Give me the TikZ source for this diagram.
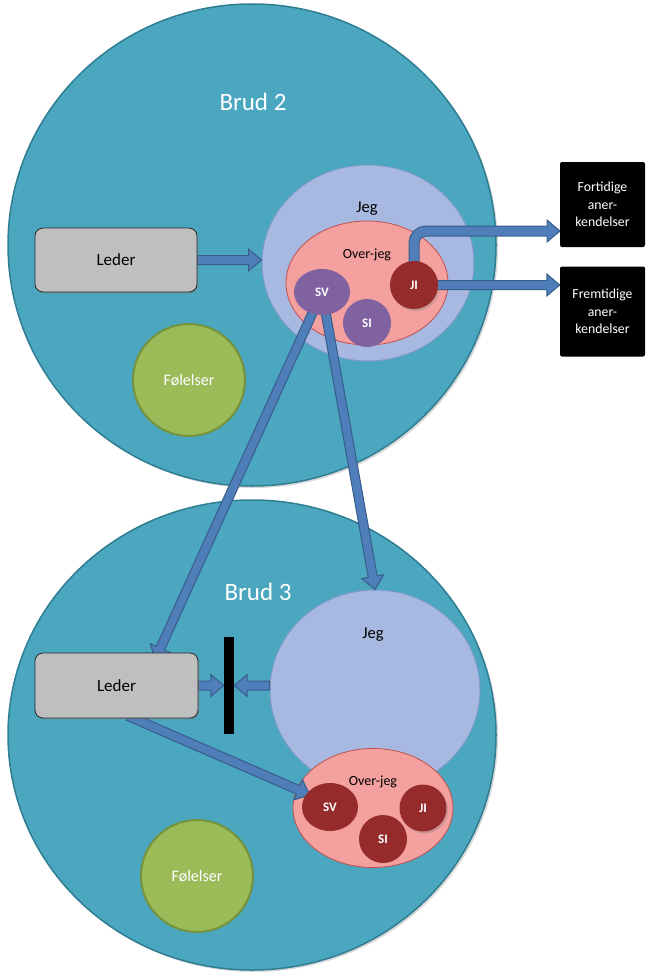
\documentclass[tikz,border=0pt]{standalone}
\usepackage{fontspec}
\setmainfont{Carlito}
\usetikzlibrary{shapes.geometric,calc,shadows}
\pgfdeclarelayer{bg}
\pgfdeclarelayer{arr}
\pgfsetlayers{bg,arr,main}
\definecolor{cTeal}{HTML}{4BA7BF}
\definecolor{cTealB}{HTML}{2F7D92}
\definecolor{cJeg}{HTML}{A7B9E0}
\definecolor{cJegB}{HTML}{7F9BCB}
\definecolor{cPink}{HTML}{F4A09F}
\definecolor{cPinkB}{HTML}{C0504D}
\definecolor{cPurple}{HTML}{8062A0}
\definecolor{cRed}{HTML}{952B2A}
\definecolor{cGray}{HTML}{BFBFBF}
\definecolor{cGreen}{HTML}{9BBB59}
\definecolor{cGreenB}{HTML}{76923C}
\definecolor{cArr}{HTML}{4F7EBB}
\definecolor{cArrB}{HTML}{385D8A}
\newcommand\barr[2]{%
  \path (#2) coordinate (tmpE) ($(#2)!13pt!(#1)$) coordinate (tmpH) (#1) coordinate (tmpS);
  \filldraw[arrowbody] ($(tmpS)!4.5pt!90:(tmpE)$) -- ($(tmpH)!4.5pt!90:(tmpE)$)
    -- ($(tmpH)!11pt!90:(tmpE)$) -- (tmpE) -- ($(tmpH)!11pt!-90:(tmpE)$)
    -- ($(tmpH)!4.5pt!-90:(tmpE)$) -- ($(tmpS)!4.5pt!-90:(tmpE)$) -- cycle;}
\begin{document}
\begin{tikzpicture}[x=1pt,y=-1pt,
  big/.style={ellipse, draw=cTealB, line width=1.5pt, fill=cTeal, inner sep=0pt},
  bigtext/.style={text=white, font=\fontsize{25}{30}\selectfont},
  jegshape/.style={ellipse, draw=cJegB, line width=1pt, fill=cJeg, inner sep=0pt},
  overshape/.style={ellipse, draw=cPinkB, line width=0.8pt, fill=cPink, inner sep=0pt},
  lbl/.style={text=black, font=\fontsize{16.5}{20}\selectfont},
  lbl2/.style={text=black, font=\fontsize{14}{17}\selectfont},
  small/.style={ellipse, inner sep=0pt, text=white, font=\bfseries\fontsize{13}{15}\selectfont},
  lederbox/.style={rectangle, rounded corners=8pt, draw=black!85, fill=cGray, line width=0.8pt,
    minimum width=162pt, minimum height=64pt, font=\fontsize{17}{20}\selectfont,
    drop shadow={opacity=0.35, shadow xshift=1.5pt, shadow yshift=-1.5pt}},
  fol/.style={circle, fill=cGreen, draw=cGreenB, line width=2pt, text=white, inner sep=0pt,
    minimum size=112pt, font=\fontsize{16}{19}\selectfont},
  blackbox/.style={fill=black, text=white, align=center, rounded corners=2pt, inner sep=0pt,
    minimum width=85pt, font=\fontsize{13.8}{17.5}\selectfont},
  arrowbody/.style={fill=cArr, draw=cArrB, line width=1pt, line join=miter}]
\useasboundingbox (0,0) rectangle (647,974);
\begin{pgfonlayer}{bg}
\node[big, minimum width=488pt, minimum height=482pt,
  drop shadow={opacity=0.3, shadow xshift=2pt, shadow yshift=-2pt}] (brud2) at (252,245) {};
\node[big, minimum width=488pt, minimum height=470pt,
  drop shadow={opacity=0.3, shadow xshift=2pt, shadow yshift=-2pt}] (brud3) at (252,735) {};
\node[bigtext] (b2t) at (253,102) {Brud 2};
\node[bigtext] (b3t) at (258,592) {Brud 3};
\node[jegshape, minimum width=212pt, minimum height=196pt] (jeg2) at (368,263) {};
\node[lbl] (jeg2t) at (367,209) {Jeg};
\node[overshape, minimum width=162pt, minimum height=124pt] (over2) at (367,283) {};
\node[lbl2] (over2t) at (367,255) {Over-jeg};
\node[jegshape, minimum width=210pt, minimum height=200pt] (jeg3) at (375,690) {};
\node[lbl] (jeg3t) at (373,635) {Jeg};
\node[overshape, minimum width=160pt, minimum height=119pt] (over3) at (373,808) {};
\node[lbl2] (over3t) at (373,782) {Over-jeg};
\end{pgfonlayer}
% main nodes
\node[lederbox] (leder2) at (116,260) {Leder};
\node[lederbox, minimum width=163pt, minimum height=65pt] (leder3) at (116.5,685.5) {Leder};
\node[fol] (fol2) at (189,380) {Følelser};
\node[fol] (fol3) at (197,876) {Følelser};
\node[small, fill=cPurple, minimum width=56pt, minimum height=46pt] (sv2) at (322,292) {SV};
\node[small, fill=cPurple, minimum width=48pt, minimum height=48pt] (si2) at (367,323) {SI};
\node[small, fill=cRed, minimum width=48pt, minimum height=48pt,
  drop shadow={opacity=0.35, shadow xshift=1.5pt, shadow yshift=-2pt}] (ji2) at (414,285) {JI};
\node[small, fill=cRed, minimum width=56pt, minimum height=48pt] (sv3) at (330,807) {SV};
\node[small, fill=cRed, minimum width=48pt, minimum height=48pt] (si3) at (383,839) {SI};
\node[small, fill=cRed, minimum width=47pt, minimum height=47pt,
  drop shadow={opacity=0.35, shadow xshift=1.5pt, shadow yshift=-2pt}] (ji3) at (423,808) {JI};
\node[fill=black, minimum width=10pt, minimum height=97pt, inner sep=0pt] (bar) at (229,685.5) {};
\node[blackbox, minimum height=85pt] (fort) at (602.5,204.5) {Fortidige\\aner-\\kendelser};
\node[blackbox, minimum height=90pt] (frem) at (602.5,311.5) {Fremtidige\\aner-\\kendelser};
\coordinate (fortin) at (560,231);
\coordinate (fortH) at (547,231);
\coordinate (tipL3) at (155,660);
\coordinate (l3out) at (128,716);
\coordinate (sv3in) at (310,795);
\begin{pgfonlayer}{arr}
\barr{leder2.east}{leder2.east -| jeg2.west}
\barr{ji2.center}{ji2.center -| frem.west}
\draw[line width=11pt, color=cArrB, rounded corners=12pt] (ji2.center) |- (fortH);
\barr{fortH}{fortin}
\draw[line width=9pt, color=cArr, rounded corners=12pt] (ji2.center) |- ($(fortH)+(1.5,0)$);
\barr{sv2.center}{tipL3}
\barr{sv2.center}{jeg3.north}
\barr{leder3.east}{leder3.east -| bar.west}
\barr{leder3.east -| jeg3.west}{leder3.east -| bar.east}
\barr{l3out}{sv3in}
\end{pgfonlayer}
\end{tikzpicture}
\end{document}
